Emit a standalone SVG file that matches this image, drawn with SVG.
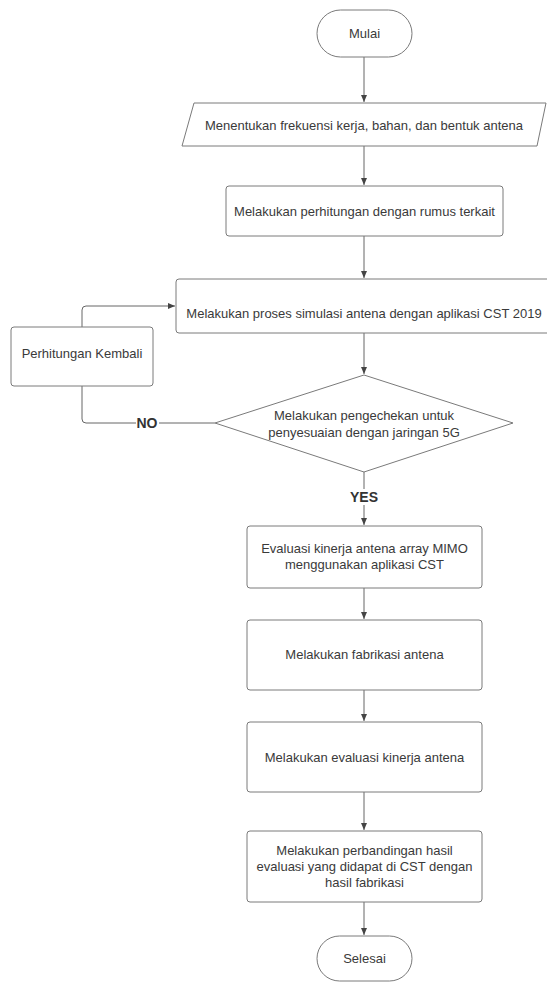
<svg xmlns="http://www.w3.org/2000/svg" width="547" height="983" viewBox="0 0 547 983">
<defs>
<marker id="ah" markerWidth="8" markerHeight="8" refX="7" refY="4" orient="auto" markerUnits="userSpaceOnUse">
<path d="M0,1 L7,4 L0,7 Z" fill="#444"/>
</marker>
<style>
.s{fill:#fff;stroke:#7a7a7a;stroke-width:1}
.t{font-family:"Liberation Sans",Arial,sans-serif;font-size:13px;fill:#3a3a3a;text-anchor:middle;dominant-baseline:central}
.b{font-family:"Liberation Sans",Arial,sans-serif;font-size:14px;font-weight:bold;fill:#333;text-anchor:middle;dominant-baseline:central}
.c{fill:none;stroke:#666;stroke-width:1}
</style>
</defs>
<rect width="547" height="983" fill="#fff"/>
<g id="connectors">
<path class="c" d="M364,57 V102" marker-end="url(#ah)"/>
<path class="c" d="M364,146 V185" marker-end="url(#ah)"/>
<path class="c" d="M364,236 V278" marker-end="url(#ah)"/>
<path class="c" d="M364,333 V374" marker-end="url(#ah)"/>
<path class="c" d="M364,472 V525" marker-end="url(#ah)"/>
<path class="c" d="M364,588 V619" marker-end="url(#ah)"/>
<path class="c" d="M364,690 V721" marker-end="url(#ah)"/>
<path class="c" d="M364,792 V830" marker-end="url(#ah)"/>
<path class="c" d="M364,902 V935" marker-end="url(#ah)"/>
<path class="c" d="M215,423 H86 Q82,423 82,419 V386"/>
<path class="c" d="M82,327 V310 Q82,306 86,306 H175" marker-end="url(#ah)"/>
<rect x="352" y="489" width="24" height="16" fill="#fff"/>
<text class="b" x="364" y="497">YES</text>
<rect x="136" y="415" width="23" height="16" fill="#fff"/>
<text class="b" x="147" y="423">NO</text>
</g>
<g id="mulai">
<rect class="s" x="317" y="10" width="95" height="47" rx="23.5"/>
<text class="t" x="364.5" y="33">Mulai</text>
</g>
<g id="input">
<path class="s" d="M194,103 H546 L537,146 H182 Z"/>
<text class="t" x="364" y="125">Menentukan frekuensi kerja, bahan, dan bentuk antena</text>
</g>
<g id="perhitungan">
<rect class="s" x="226" y="186" width="277" height="50" rx="3"/>
<text class="t" x="364.5" y="211">Melakukan perhitungan dengan rumus terkait</text>
</g>
<g id="simulasi">
<rect class="s" x="176" y="279" width="378" height="54" rx="3"/>
<text class="t" x="364" y="313">Melakukan proses simulasi antena dengan aplikasi CST 2019</text>
</g>
<g id="kembali">
<rect class="s" x="11" y="327" width="142" height="59" rx="3"/>
<text class="t" x="82" y="353">Perhitungan Kembali</text>
</g>
<g id="cek">
<path class="s" d="M364,375 L513,423 L364,472 L215,423 Z"/>
<text class="t" x="364" y="415">Melakukan pengechekan untuk</text>
<text class="t" x="364" y="432">penyesuaian dengan jaringan 5G</text>
</g>
<g id="evaluasi-mimo">
<rect class="s" x="247" y="526" width="235" height="62" rx="3"/>
<text class="t" x="364.5" y="548">Evaluasi kinerja antena array MIMO</text>
<text class="t" x="364.5" y="564">menggunakan aplikasi CST</text>
</g>
<g id="fabrikasi">
<rect class="s" x="247" y="620" width="235" height="70" rx="3"/>
<text class="t" x="364.5" y="654">Melakukan fabrikasi antena</text>
</g>
<g id="evaluasi-kinerja">
<rect class="s" x="247" y="722" width="235" height="70" rx="3"/>
<text class="t" x="364.5" y="757">Melakukan evaluasi kinerja antena</text>
</g>
<g id="perbandingan">
<rect class="s" x="247" y="831" width="235" height="71" rx="3"/>
<text class="t" x="364.5" y="850">Melakukan perbandingan hasil</text>
<text class="t" x="364.5" y="866">evaluasi yang didapat di CST dengan</text>
<text class="t" x="364.5" y="882">hasil fabrikasi</text>
</g>
<g id="selesai">
<rect class="s" x="317" y="936" width="95" height="45" rx="22.5"/>
<text class="t" x="364.5" y="958">Selesai</text>
</g>
</svg>
